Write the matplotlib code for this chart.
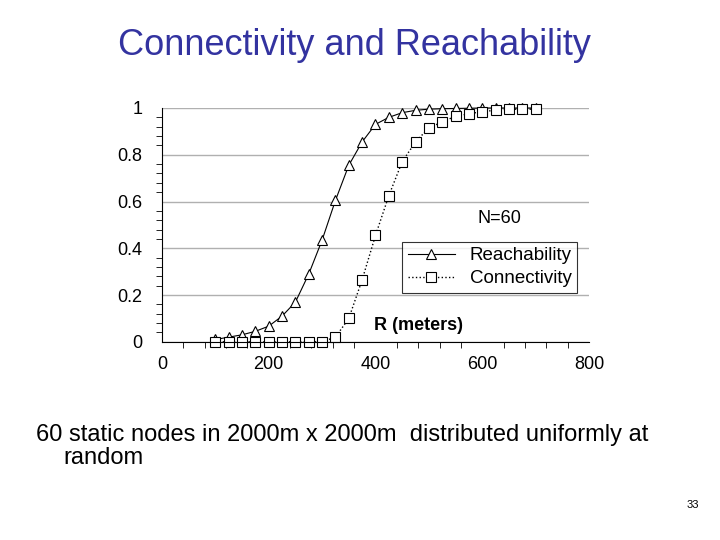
import matplotlib
matplotlib.use("Agg")
import matplotlib.pyplot as plt
from matplotlib.ticker import MultipleLocator

R = list(range(100, 701, 25))
reach = [0.01, 0.02, 0.03, 0.045, 0.067, 0.11, 0.17, 0.29, 0.435, 0.605, 0.755, 0.855,
         0.93, 0.96, 0.98, 0.99, 0.995, 0.997, 0.998, 0.999, 1.0, 1.0, 1.0, 1.0, 1.0]
conn = [0, 0, 0, 0, 0, 0, 0, 0, 0, 0.02, 0.1, 0.265, 0.455, 0.625, 0.77, 0.855,
        0.915, 0.94, 0.965, 0.975, 0.985, 0.99, 0.995, 0.995, 0.995]

plt.rcParams['font.family'] = ['Liberation Sans', 'DejaVu Sans']
fig = plt.figure(figsize=(7.2, 5.4), dpi=100)
ax = fig.add_axes([0.225, 0.367, 0.593, 0.433])
ax.plot(R, reach, '-', color='black', lw=0.8, marker='^', ms=7.5, mfc='white', mec='black', mew=0.8,
        label='Reachability', clip_on=False)
ax.plot(R, conn, ':', color='black', lw=1.0, marker='s', ms=6.5, mfc='white', mec='black', mew=0.8,
        label='Connectivity', clip_on=False)
ax.set_xlim(0, 800)
ax.set_ylim(0, 1)
ax.set_yticks([0, 0.2, 0.4, 0.6, 0.8, 1.0])
ax.set_yticklabels(['0', '0.2', '0.4', '0.6', '0.8', '1'])
ax.set_xticks([0, 200, 400, 600, 800])
ax.xaxis.set_minor_locator(MultipleLocator(40))
ax.yaxis.set_minor_locator(MultipleLocator(0.04))
ax.tick_params(axis='both', which='both', direction='out', labelsize=13)
ax.tick_params(axis='y', which='major', length=0, pad=14)
ax.tick_params(axis='x', which='major', length=0, pad=10)
ax.tick_params(which='minor', length=4)
for s in ['top', 'right']:
    ax.spines[s].set_visible(False)
ax.grid(axis='y', color='#b0b0b0', lw=1)
ax.set_axisbelow(True)
leg = ax.legend(loc='lower right', bbox_to_anchor=(0.995, 0.17), fontsize=13.5, frameon=True,
                fancybox=False, edgecolor='black', handlelength=2.5, borderpad=0.3, labelspacing=0.3)
leg.get_frame().set_linewidth(0.8)
ax.text(0.79, 0.51, 'N=60', transform=ax.transAxes, fontsize=13, ha='center')
ax.text(0.6, 0.05, 'R (meters)', transform=ax.transAxes, fontsize=13, fontweight='bold', ha='center')

fig.text(0.492, 0.915, 'Connectivity and Reachability', fontsize=26, color='#3333a0', ha='center', va='center')
fig.text(0.05, 0.195, '60 static nodes in 2000m x 2000m  distributed uniformly at', fontsize=17, va='center')
fig.text(0.088, 0.152, 'random', fontsize=17, va='center')
fig.text(0.962, 0.065, '33', fontsize=8, ha='center', va='center')
fig.savefig('out.png', dpi=100)
